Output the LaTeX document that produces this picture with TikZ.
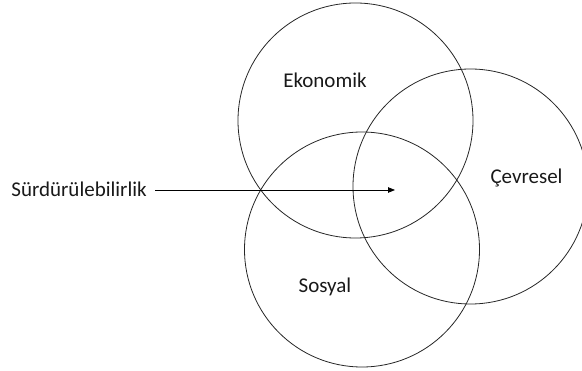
\documentclass[tikz,border=0pt]{standalone}
\usepackage{fontspec}
\setmainfont{Carlito}
\usetikzlibrary{arrows.meta}
\tikzset{
	ring/.style={line width=0.8pt, draw=black!85},
	label/.style={font=\fontsize{21}{25}\selectfont, inner sep=0pt, text=black!90},
}

\begin{document}
\begin{tikzpicture}[x=1pt, y=-1pt]
		%%%%% START %%%%%
		\useasboundingbox (0, 0) rectangle (582, 371);
		
		\draw[ring] (355.5, 120.5) circle (117.5);
		\draw[ring] (470.5, 186.5) circle (117.5);
		\draw[ring] (362, 249.5) circle (117.5);
		
		\node[label] (eko) at (325, 80) {Ekonomik};
		\node[label] (cev) at (526.5, 178) {Çevresel};
		\node[label] (sos) at (325, 287) {Sosyal};
		\node[label, anchor=east] (sur) at (147, 189) {Sürdürülebilirlik};
		
		\coordinate (hedef) at (395, 190);
		\draw[line width=0.8pt, -{Triangle[length=7pt, width=5.5pt]}] (sur.east |- hedef) ++(8, 0) -- (hedef);
		%%%%% END %%%%%
	\end{tikzpicture}
\end{document}
